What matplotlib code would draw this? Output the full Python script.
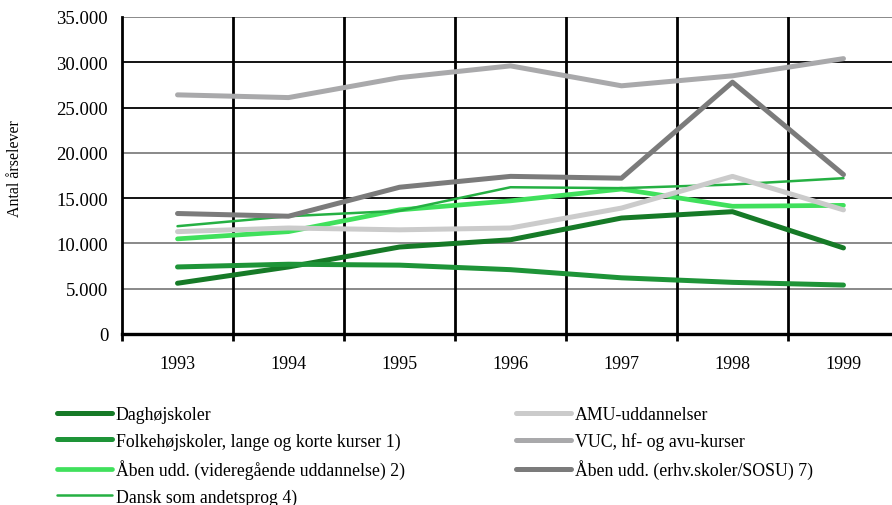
import numpy as np
import matplotlib.pyplot as plt

plt.rcParams['font.family'] = ['Liberation Serif', 'DejaVu Serif']

years = ["1993", "1994", "1995", "1996", "1997", "1998", "1999"]

daghoejskoler = [5600, 7400, 9600, 10400, 12800, 13500, 9500]
folkehoejskoler = [7400, 7700, 7600, 7100, 6200, 5700, 5400]
aaben_videregaaende = [10500, 11300, 13700, 14700, 16000, 14100, 14200]
dansk_andetsprog = [11900, 13000, 13600, 16200, 16100, 16500, 17200]
amu = [11300, 11700, 11500, 11700, 13900, 17400, 13700]
vuc = [26400, 26100, 28300, 29600, 27400, 28500, 30400]
aaben_erhv = [13300, 13000, 16200, 17400, 17200, 27800, 17600]

left_series = [
    ("Daghøjskoler", daghoejskoler, "#167a27", 3.6),
    ("Folkehøjskoler, lange og korte kurser 1)", folkehoejskoler, "#1e9438", 3.6),
    ("Åben udd. (videregående uddannelse) 2)", aaben_videregaaende, "#40e05c", 3.4),
    ("Dansk som andetsprog 4)", dansk_andetsprog, "#25b043", 1.8),
]
right_series = [
    ("AMU-uddannelser", amu, "#cbcbcb", 3.6),
    ("VUC, hf- og avu-kurser", vuc, "#a9a9ab", 3.6),
    ("Åben udd. (erhv.skoler/SOSU) 7)", aaben_erhv, "#7b7b7b", 3.6),
]

fig = plt.figure(figsize=(8.92, 5.06), dpi=100)
ax = fig.add_axes([0.1368, 0.338, 0.871, 0.6265])

ax.set_xlim(-0.5, len(years) - 0.5)
ax.set_ylim(0, 35000)

# horizontal grid, alternating dark and grey as in the printed chart
grid_colors = {5000: "#808080", 10000: "#808080", 15000: "#000000",
               20000: "#808080", 25000: "#000000", 30000: "#000000",
               35000: "#808080"}
for yv, c in grid_colors.items():
    ax.axhline(yv, color=c, lw=1.3, zorder=1)
for k in range(1, len(years)):
    ax.axvline(k - 0.5, color="black", lw=2, zorder=1)

handles_left, handles_right = [], []
for name, vals, col, lw in left_series:
    h, = ax.plot(years, vals, color=col, lw=lw, solid_capstyle="round", label=name, zorder=3)
    handles_left.append(h)
for name, vals, col, lw in right_series:
    h, = ax.plot(years, vals, color=col, lw=lw, solid_capstyle="round", label=name, zorder=3)
    handles_right.append(h)

for s in ["top", "right"]:
    ax.spines[s].set_visible(False)
ax.spines["left"].set_linewidth(2)
ax.spines["bottom"].set_linewidth(2.4)

ax.set_yticks(np.arange(0, 35001, 5000))
ax.set_yticklabels(["0"] + [f"{v // 1000}.000" for v in range(5000, 35001, 5000)])
ax.tick_params(axis="y", length=0, pad=10, labelsize=13.5)
ax.tick_params(axis="x", which="major", length=0, pad=15.5, labelsize=13)
ax.set_xticks(np.arange(-0.5, len(years), 1), minor=True)
ax.tick_params(axis="x", which="minor", length=5, width=2, direction="out")
ax.set_ylabel("Antal årselever", fontsize=11.5)
ax.yaxis.set_label_coords(-0.127, 0.524)

legend_kw = dict(loc="upper left", frameon=False, fontsize=12.8, handlelength=3.1,
                 handletextpad=0.2, labelspacing=0.53, borderpad=0, borderaxespad=0)
fig.legend(handles=handles_left, bbox_to_anchor=(0.064, 0.196), **legend_kw)
fig.legend(handles=handles_right, bbox_to_anchor=(0.5785, 0.196), **legend_kw)

fig.savefig("out.png", dpi=100)
